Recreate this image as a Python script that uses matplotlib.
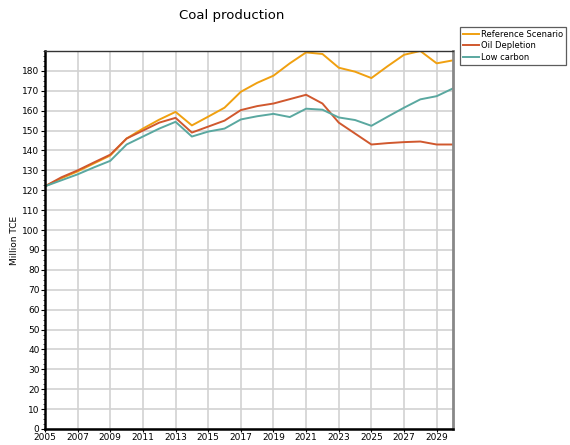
import matplotlib
matplotlib.use("Agg")
import matplotlib.pyplot as plt
from matplotlib.ticker import MultipleLocator, FixedLocator

years = list(range(2005, 2031))
year_ticks = list(range(2005, 2030, 2))

reference = [122, 126, 129.5, 133.5, 137.5, 146, 151, 155.5, 159.4, 152.6, 157, 161.5, 169.5,
             174, 177.6, 183.8, 189.3, 188.5, 181.6, 179.6, 176.4, 182.4, 188.1, 190, 183.8, 185.3]
oil_depletion = [122, 126.5, 130, 134, 137.9, 146, 150, 154, 156.4, 149, 152, 155, 160.3,
                 162.3, 163.6, 165.8, 168, 163.6, 154, 148.5, 143, 143.7, 144.2, 144.5, 143, 143]
low_carbon = [122, 125, 128, 131.5, 134.8, 143, 147, 151, 154.4, 147, 149.5, 151, 155.6,
              157.2, 158.4, 156.8, 161, 160.5, 156.6, 155.3, 152.4, 157, 161.5, 165.7, 167.3, 171.2]

series_names = ["Reference Scenario", "Oil Depletion", "Low carbon"]
colors = ["#f0a010", "#d0582e", "#5aa8a0"]

fig = plt.figure(figsize=(5.7, 4.45), dpi=100)
ax = fig.add_axes([45 / 570, 16 / 445, 408 / 570, 378 / 445])

for vals, name, c in zip([reference, oil_depletion, low_carbon], series_names, colors):
    ax.plot(years, vals, color=c, lw=1.4, label=name)

ax.set_xlim(2005, 2030)
ax.set_ylim(0, 190)
ax.xaxis.set_major_locator(FixedLocator(year_ticks))
ax.yaxis.set_major_locator(FixedLocator(list(range(0, 181, 10))))
ax.yaxis.set_minor_locator(MultipleLocator(2.5))
ax.grid(True, which="major", color="#d2d2d2", lw=1.2)
ax.set_axisbelow(True)
ax.tick_params(axis="both", labelsize=6.5, length=3, width=0.8, pad=1)
ax.tick_params(axis="y", which="minor", length=1.5, width=0.5)
ax.tick_params(axis="x", length=2)
ax.set_ylabel("Million TCE", fontsize=6.5, labelpad=2)

for s in ["left", "bottom"]:
    ax.spines[s].set_color("black")
    ax.spines[s].set_linewidth(1.8)
ax.spines["right"].set_color("#888888")
ax.spines["right"].set_linewidth(2)
ax.spines["top"].set_color("#333333")
ax.spines["top"].set_linewidth(1)

fig.text(232 / 570, 1 - 16 / 445, "Coal production", ha="center", va="center", fontsize=9.5)

leg = fig.legend(loc="upper left", bbox_to_anchor=(460 / 570, 1 - 27 / 445), fontsize=6,
                 frameon=True, fancybox=False, edgecolor="#333333", handlelength=1.9,
                 handletextpad=0.3, borderpad=0.35, labelspacing=0.3, borderaxespad=0)
leg.get_frame().set_linewidth(0.9)

fig.savefig("out.png", dpi=100)
